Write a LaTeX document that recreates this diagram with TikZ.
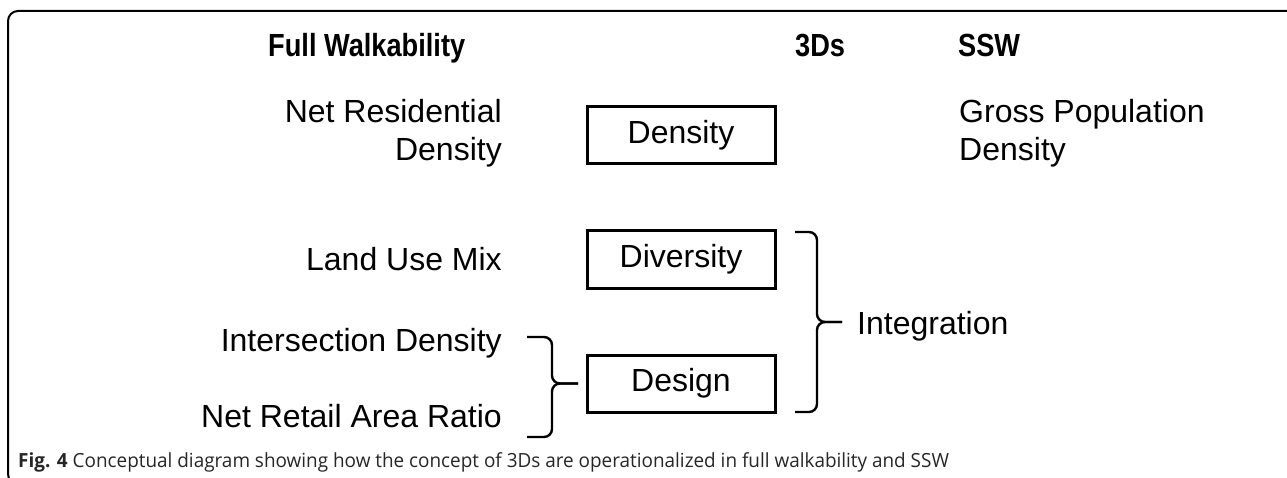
\documentclass[tikz,border=0pt]{standalone}
\usepackage{fontspec}
\setmainfont{Liberation Sans}
\newfontfamily\headfont[FakeStretch=0.85]{Liberation Sans}
\newfontfamily\capfont[FakeStretch=0.97]{Open Sans}
\usetikzlibrary{positioning}
\tikzset{
  body/.style={inner sep=0pt, font=\fontsize{32}{38}\selectfont},
  head/.style={inner sep=0pt, font=\headfont\fontsize{32}{38}\selectfont\bfseries},
  dbox/.style={draw, line width=3pt, minimum width=188pt, minimum height=57pt, inner sep=0pt, font=\fontsize{32}{38}\selectfont},
  brace/.style={line width=2.4pt, rounded corners=8pt},
  frame/.style={line width=2pt, rounded corners=10pt}
}
\begin{document}
\begin{tikzpicture}[x=1pt,y=-1pt]
\useasboundingbox (0,0) rectangle (1287,478);
% frame
\draw[frame] (1300,484) -- (8,484) -- (8,11) -- (1300,11);
% headings
\node[head, anchor=base west] (hfw) at (268,57) {Full Walkability};
\node[head, anchor=base west] (h3d) at (795,57) {3Ds};
\node[head, anchor=base west] (hssw) at (958,57) {SSW};
% boxes
\node[dbox] (dens) at (681,135.5) {Density};
\node[dbox] (div) at (681,259.5) {Diversity};
\node[dbox] (des) at (681,383.5) {Design};
% left column
\node[body, anchor=east, align=right] (nrd) at (502,133) {Net Residential\\Density};
\node[body, anchor=east] (lum) at (502,259) {Land Use Mix};
\node[body, anchor=base east] (isd) at (502,351) {Intersection Density};
\node[body, anchor=base east] (nra) at (502,427) {Net Retail Area Ratio};
% right column
\node[body, anchor=west, align=left] (gpd) at (959,133) {Gross Population\\Density};
\node[body, anchor=base west] (integ) at (857,334) {Integration};
% left brace
\coordinate (lbt) at (527,337);
\coordinate (lbb) at (527,437);
\coordinate (lbm) at (552,383.5);
\coordinate (lbs) at (578,383.5);
\draw[brace] (lbt) -| (lbm) -- (lbs);
\draw[brace] (lbb) -| (lbm) -- (lbs);
% right brace
\coordinate (rbt) at (795,232);
\coordinate (rbb) at (795,412);
\coordinate (rbm) at (817,322);
\coordinate (rbs) at (842,322);
\draw[brace] (rbt) -| (rbm) -- (rbs);
\draw[brace] (rbb) -| (rbm) -- (rbs);
% caption
\node[inner sep=0pt, anchor=base west, font=\capfont\fontsize{19.5}{22}\selectfont, text=black!85] (cap) at (18,467)
  {\textbf{Fig. 4} Conceptual diagram showing how the concept of 3Ds are operationalized in full walkability and SSW};
\end{tikzpicture}
\end{document}
